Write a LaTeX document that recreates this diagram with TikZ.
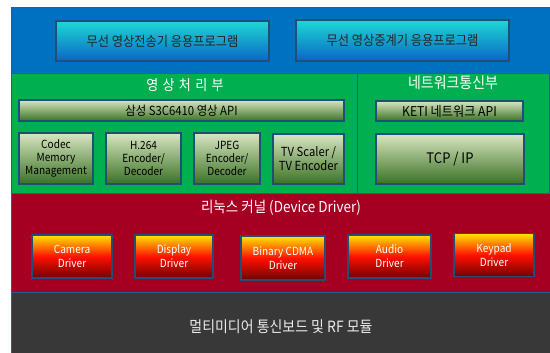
\documentclass[tikz,border=0pt]{standalone}
\usepackage{fontspec}
\setmainfont{Noto Sans CJK KR}[FakeStretch=0.9]
\definecolor{topblue}{HTML}{0070C0}
\definecolor{framblue}{HTML}{1F5FA0}
\definecolor{boxedge}{HTML}{1F4E79}
\definecolor{secgreen}{HTML}{00B050}
\definecolor{krred}{HTML}{A50021}
\definecolor{hwgrey}{HTML}{383838}
\definecolor{appcyan}{HTML}{1ED8D4}
\definecolor{appblue}{HTML}{0A66C4}
\definecolor{grlight}{HTML}{D8E6C2}
\definecolor{grdark}{HTML}{3A7223}
\definecolor{drvyel}{HTML}{FFE600}
\definecolor{drvred}{HTML}{FF1000}
\definecolor{drvdark}{HTML}{700000}
\tikzset{
  section/.style={draw=framblue, line width=0.8pt, anchor=north west, inner sep=0pt},
  appbox/.style={draw=boxedge, line width=1.2pt, top color=appcyan, bottom color=appblue,
    inner sep=0pt, font=\fontsize{13.6}{15}\selectfont, text=black!85},
  apibar/.style={draw=boxedge, line width=1.2pt, top color=grlight, bottom color=grdark,
    inner sep=0pt, font=\fontsize{12.6}{14}\selectfont, text=black},
  modbox/.style={draw=boxedge, line width=1.2pt, top color=grlight, bottom color=grdark,
    inner sep=0pt, align=center, font=\fontsize{11.2}{13.3}\selectfont, text=black},
  drvbox/.style={draw=boxedge, line width=1.2pt, top color=drvyel, bottom color=drvdark, middle color=drvred,
    inner sep=0pt, align=center, font=\fontsize{11.2}{14}\selectfont, text=white},
  sectitle/.style={text=white, inner sep=0pt}
}
\begin{document}
\begin{tikzpicture}[x=1pt, y=-1pt]
\useasboundingbox (0,0) rectangle (550,353);
% sections
\node[section, fill=topblue, minimum width=539pt, minimum height=66pt] (top) at (11,7) {};
\node[section, fill=secgreen, minimum width=346pt, minimum height=120pt] (img) at (11,73) {};
\node[section, fill=secgreen, minimum width=192pt, minimum height=120pt] (net) at (357,73) {};
\node[section, fill=krred, minimum width=539pt, minimum height=100pt] (kern) at (11,193) {};
\node[section, fill=hwgrey, minimum width=539pt, minimum height=62pt] (hw) at (11,292) {};
% application boxes
\node[appbox, minimum width=213pt, minimum height=40pt] (app1) at (162.5,41) {무선 영상전송기 응용프로그램};
\node[appbox, minimum width=213pt, minimum height=41pt] (app2) at (402.5,40.5) {무선 영상중계기 응용프로그램};
% image processing
\node[sectitle, font=\fontsize{14.5}{16}\selectfont] (imgt) at (185,85) {영\hspace{0.3em}상\hspace{0.3em}처\hspace{0.3em}리\hspace{0.3em}부};
\node[apibar, minimum width=325pt, minimum height=21pt] (api) at (181.5,110.5) {삼성 S3C6410 영상 API};
\node[modbox, minimum width=74pt, minimum height=51pt] (codec) at (56,158.5) {Codec\\Memory\\Management};
\node[modbox, minimum width=75pt, minimum height=51pt] (h264) at (143.5,158.5) {H.264\\Encoder/\\Decoder};
\node[modbox, minimum width=66pt, minimum height=51pt] (jpeg) at (227,158.5) {JPEG\\Encoder/\\Decoder};
\node[modbox, minimum width=71pt, minimum height=50pt, font=\fontsize{12.5}{14}\selectfont] (tv) at (308.5,159) {TV Scaler /\\TV Encoder};
% network
\node[sectitle, font=\fontsize{15.5}{17}\selectfont] (nett) at (453,83) {네트워크통신부};
\node[apibar, minimum width=147pt, minimum height=20pt, font=\fontsize{13.5}{15}\selectfont] (keti) at (449.5,111) {KETI 네트워크 API};
\node[modbox, minimum width=148pt, minimum height=50pt, font=\fontsize{14.5}{16}\selectfont] (tcp) at (450,159) {TCP / IP};
% kernel
\node[sectitle, font=\fontsize{15}{17}\selectfont] (kt) at (281,207.5) {리눅스 커널 (Device Driver)};
\node[drvbox, minimum width=80pt, minimum height=43pt] (cam) at (72,256.5) {Camera\\Driver};
\node[drvbox, minimum width=78pt, minimum height=43pt] (disp) at (174,256.5) {Display\\Driver};
\node[drvbox, minimum width=84pt, minimum height=44pt] (cdma) at (283,258) {Binary CDMA\\Driver};
\node[drvbox, minimum width=83pt, minimum height=43pt] (aud) at (389.5,256.5) {Audio\\Driver};
\node[drvbox, minimum width=80pt, minimum height=43.5pt] (key) at (494,255) {Keypad\\Driver};
% hardware
\node[sectitle, text=black!8, font=\fontsize{15.5}{17}\selectfont] (hwt) at (281,327) {멀티미디어 통신보드 및 RF 모듈};
\end{tikzpicture}
\end{document}
